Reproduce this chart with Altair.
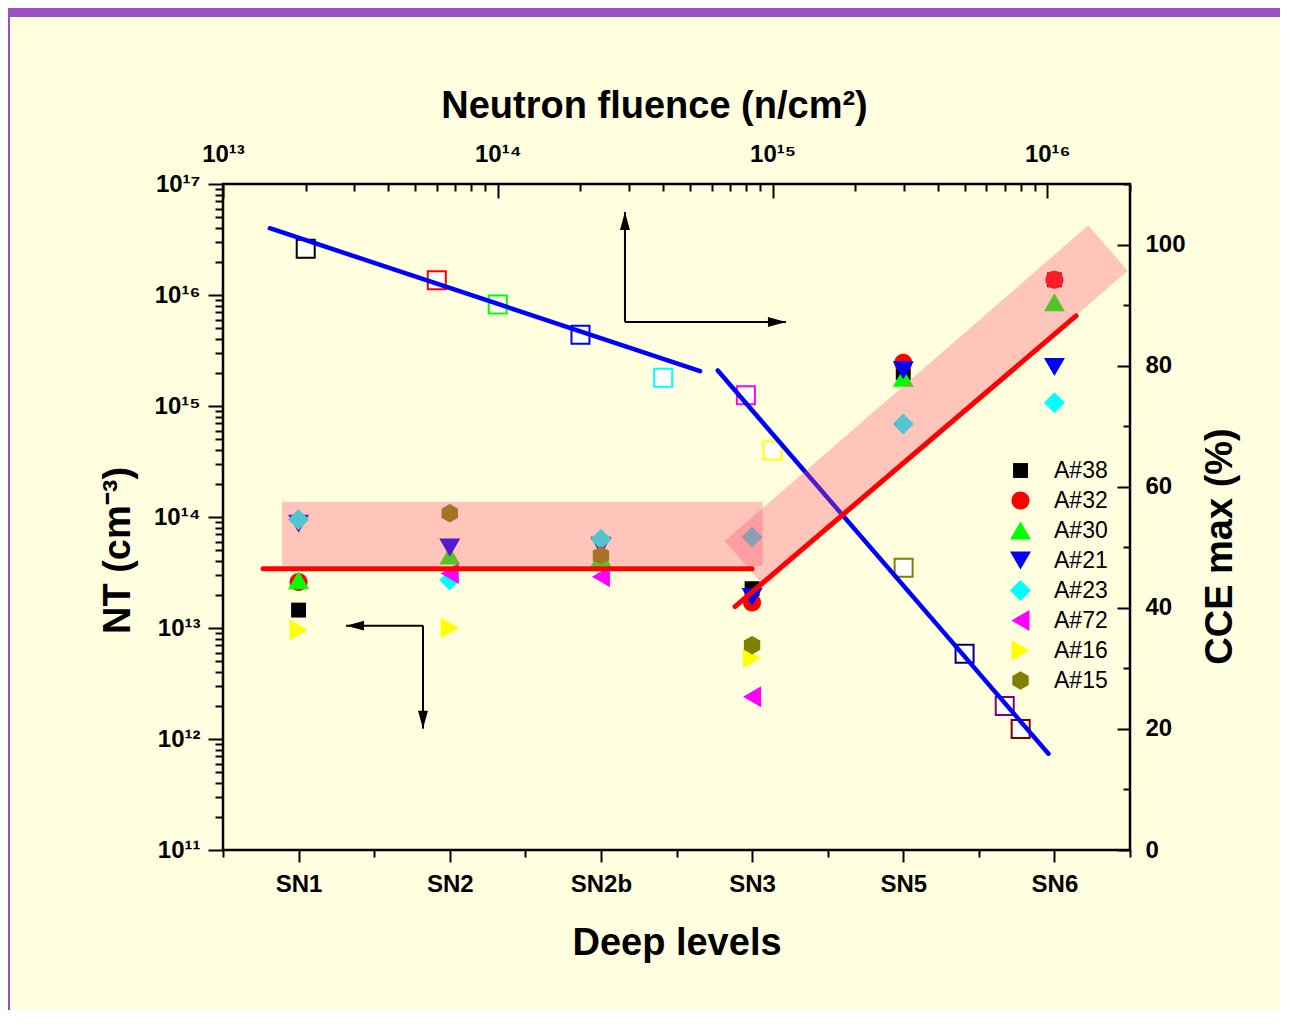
import pandas as pd
import altair as alt

# ---------------- data ----------------
LEVELS = ["SN1", "SN2", "SN2b", "SN3", "SN5", "SN6"]
LEVEL_POS = [1, 2, 3, 4, 5, 6]

SERIES = ["A#38", "A#32", "A#30", "A#21", "A#23", "A#72", "A#16", "A#15"]
COLORS = ["#000000", "#ff0000", "#00ff00", "#0000ff", "#00ffff", "#ff00ff", "#ffff00", "#808000"]
SHAPES = [
    "M-0.71,-0.71L0.71,-0.71L0.71,0.71L-0.71,0.71Z",                      # square
    "M0.86,0A0.86,0.86,0,1,1,-0.86,0A0.86,0.86,0,1,1,0.86,0Z",            # circle
    "M0,-0.86L1,0.86L-1,0.86Z",                                          # triangle up
    "M0,0.86L1,-0.86L-1,-0.86Z",                                         # triangle down
    "M0,-1L1,0L0,1L-1,0Z",                                               # diamond
    "M-0.86,0L0.86,-1L0.86,1Z",                                          # triangle left
    "M0.86,0L-0.86,-1L-0.86,1Z",                                         # triangle right
    "M0,-0.88L0.78,-0.44L0.78,0.44L0,0.88L-0.78,0.44L-0.78,-0.44Z",      # hexagon
]

# trap concentration NT (cm^-3) per deep level, one list per sample
NT_A38 = [1.45e13, None, 4.2e13, 2.26e13, 2.0e15, 1.37e16]
NT_A32 = [2.6e13, None, None, 1.7e13, 2.45e15, 1.37e16]
NT_A30 = [2.7e13, 4.5e13, 4.3e13, None, 1.8e15, 8.6e15]
NT_A21 = [8.7e13, 5.3e13, 5.5e13, 1.9e13, 2.1e15, 2.25e15]
NT_A23 = [9.5e13, 2.7e13, 6.3e13, 6.6e13, 6.9e14, 1.07e15]
NT_A72 = [None, 3.1e13, 2.9e13, 2.4e12, None, None]
NT_A16 = [9.6e12, 1.0e13, None, 5.4e12, None, None]
NT_A15 = [None, 1.08e14, 4.5e13, 7.0e12, None, None]
NT_ALL = [NT_A38, NT_A32, NT_A30, NT_A21, NT_A23, NT_A72, NT_A16, NT_A15]

# CCE max (%) vs neutron fluence (n/cm^2)
FLUENCE = [2e13, 6e13, 1e14, 2e14, 4e14, 8e14, 1e15, 3e15, 5e15, 7e15, 8e15]
CCE = [99.3, 94.1, 90.1, 85.1, 78.0, 75.1, 66.0, 46.6, 32.4, 23.8, 20.0]
CCE_COLORS = ["#000000", "#ff0000", "#00ff00", "#0000ff", "#00ffff", "#ff00ff",
              "#ffff00", "#808000", "#000080", "#800080", "#800000"]

# blue fit lines on CCE vs fluence
FIT1_FL = [1.48e13, 5.45e14]
FIT1_CCE = [102.7, 79.1]
FIT2_FL = [6.32e14, 1.01e16]
FIT2_CCE = [79.2, 15.9]

# red fit lines on NT vs deep level
RED1_X = [0.765, 4.0]
RED1_NT = [3.42e13, 3.42e13]
RED2_X = [3.887, 6.143]
RED2_NT = [1.56e13, 6.48e15]

# shaded bands
BANDH_X = [0.89]
BANDH_X2 = [4.07]
BANDH_NT = [3.64e13]
BANDH_NT2 = [1.37e14]
BANDD_X = [3.95, 6.354]
BANDD_NT = [3.8e13, 2.65e16]

# annotation arrows (deep level position, NT)
ARROW_X = [3.159, 3.159, 1.823, 1.823]
ARROW_X2 = [3.159, 4.224, 1.314, 1.823]
ARROW_NT = [5.72e15, 5.72e15, 1.05e13, 1.05e13]
ARROW_NT2 = [5.6e16, 5.72e15, 1.05e13, 1.24e12]
ARROW_HEADS = [
    "M0,0L-0.55,2L0.55,2Z",   # up
    "M0,0L-2,-0.55L-2,0.55Z", # right
    "M0,0L2,-0.55L2,0.55Z",   # left
    "M0,0L-0.55,-2L0.55,-2Z", # down
]

# ---------------- tables ----------------
rows = []
for s, vals in zip(SERIES, NT_ALL):
    for p, v in zip(LEVEL_POS, vals):
        if v is not None:
            rows.append({"x": p, "nt": v, "series": s})
pts = pd.DataFrame(rows)

sq_df = pd.DataFrame({"fl": FLUENCE, "cce": CCE, "col": CCE_COLORS})
fit_df = pd.DataFrame({
    "fl": FIT1_FL + FIT2_FL,
    "cce": FIT1_CCE + FIT2_CCE,
    "seg": ["a", "a", "b", "b"],
})
red_df = pd.DataFrame({
    "x": RED1_X + RED2_X,
    "nt": RED1_NT + RED2_NT,
    "seg": ["a", "a", "b", "b"],
})
bandh_df = pd.DataFrame({"x": BANDH_X, "x2": BANDH_X2, "nt": BANDH_NT, "nt2": BANDH_NT2})
bandd_df = pd.DataFrame({"x": BANDD_X, "nt": BANDD_NT})
arrow_df = pd.DataFrame({"x": ARROW_X, "x2": ARROW_X2, "nt": ARROW_NT, "nt2": ARROW_NT2})
head_df = pd.DataFrame({"x": ARROW_X2, "nt": ARROW_NT2, "shape": ARROW_HEADS})

# ---------------- axes ----------------
SUP = "⁰¹²³⁴⁵⁶⁷⁸⁹"
E = "round(log(datum.value)/LN10)"
MAJOR_LOG = f"abs(log(datum.value)/LN10 - {E}) < 0.001"
LOG_LABEL = (f"{MAJOR_LOG} ? '10' + substring('{SUP}', floor({E}/10), floor({E}/10)+1)"
             f" + substring('{SUP}', {E}%10, {E}%10+1) : ''")

NT_TICKS = [m * 10.0 ** d for d in range(11, 17) for m in range(1, 10)] + [1e17]
FL_TICKS = [m * 10.0 ** d for d in range(13, 16) for m in range(1, 10)] + [1e16, 2e16]
CCE_TICKS = list(range(0, 111, 10))
LVL_TICKS = [0.5 + 0.5 * i for i in range(13)]
LVL_ARRAY = "[" + ",".join(f"'{l}'" for l in LEVELS) + "]"

AX_LEFT = alt.Axis(
    orient="left", values=NT_TICKS, labelExpr=LOG_LABEL,
    tickSize={"condition": {"test": MAJOR_LOG, "value": 15}, "value": 8},
    labelPadding=8, title="NT (cm⁻³)", titlePadding=16, titleY=366,
)
AX_BOTTOM = alt.Axis(
    orient="bottom", values=LVL_TICKS,
    labelExpr=f"datum.value % 1 == 0 ? {LVL_ARRAY}[datum.value - 1] : ''",
    tickSize={"condition": {"test": "datum.value % 1 == 0", "value": 12}, "value": 7},
    labelPadding=10, title="Deep levels", titlePadding=28,
)
AX_TOP = alt.Axis(
    orient="top", values=FL_TICKS, labelExpr=LOG_LABEL, offset=-14, tickSize=14,
    tickDash={"condition": {"test": MAJOR_LOG, "value": []}, "value": [0, 7, 7, 0]},
    labelPadding=18, title="Neutron fluence (n/cm²)", titlePadding=17, titleX=431,
)
AX_RIGHT = alt.Axis(
    orient="right", values=CCE_TICKS,
    labelExpr="datum.value % 20 == 0 ? datum.label : ''", offset=-13, tickSize=13,
    tickDash={"condition": {"test": "datum.value % 20 == 0", "value": []}, "value": [0, 6, 7, 0]},
    labelPadding=15, title="CCE max (%)", titleAngle=270, titleBaseline="top",
    titlePadding=16, titleY=362,
)

LVL_SCALE = alt.Scale(domain=[0.5, 6.5], nice=False, zero=False)
NT_SCALE = alt.Scale(type="log", domain=[1e11, 1e17], nice=False)
FL_SCALE = alt.Scale(type="log", domain=[1e13, 2e16], nice=False)
CCE_SCALE = alt.Scale(domain=[0, 110], nice=False, zero=False)

X_A = alt.X("x:Q", scale=LVL_SCALE, axis=AX_BOTTOM)
Y_A = alt.Y("nt:Q", scale=NT_SCALE, axis=AX_LEFT)
X_B = alt.X("fl:Q", scale=FL_SCALE, axis=AX_TOP)
Y_B = alt.Y("cce:Q", scale=CCE_SCALE, axis=AX_RIGHT)
X_C = alt.X("x:Q", scale=LVL_SCALE, axis=None)
Y_C = alt.Y("nt:Q", scale=NT_SCALE, axis=None)

LEG = alt.Legend(
    orient="none", legendX=786, legendY=275, title=None,
    labelFont="Liberation Sans", labelFontSize=23, labelFontWeight="normal",
    labelColor="black", symbolSize=441, symbolStrokeWidth=0, symbolOpacity=1,
    rowPadding=6, labelOffset=22, padding=0,
)

PURPLE = "#9c50c0"
BAND_COLOR = "#ff5070"
one = pd.DataFrame({"k": [0]})

# ---------------- group A: NT vs deep levels ----------------
frame_top = alt.Chart(one).mark_rect(color=PURPLE).encode(
    x=alt.value(-215), x2=alt.value(1064), y=alt.value(-176), y2=alt.value(-167))
frame_left = alt.Chart(one).mark_rect(color=PURPLE).encode(
    x=alt.value(-215), x2=alt.value(-213), y=alt.value(-176), y2=alt.value(838))

points = alt.Chart(pts).mark_point(filled=True, size=441, opacity=1, strokeWidth=0).encode(
    x=X_A, y=Y_A,
    color=alt.Color("series:N", scale=alt.Scale(domain=SERIES, range=COLORS), legend=LEG),
    shape=alt.Shape("series:N", scale=alt.Scale(domain=SERIES, range=SHAPES), legend=LEG),
)
arrows = alt.Chart(arrow_df).mark_rule(color="black", strokeWidth=2).encode(
    x=X_A, x2="x2:Q", y=Y_A, y2="nt2:Q")
heads = alt.Chart(head_df).mark_point(filled=True, size=324, color="black", opacity=1, strokeWidth=0).encode(
    x=X_A, y=Y_A, shape=alt.Shape("shape:N", scale=None))

group_a = alt.layer(frame_top, frame_left, points, arrows, heads)

# ---------------- group B: CCE vs fluence ----------------
squares = alt.Chart(sq_df).mark_point(
    shape="square", size=324, filled=False, fill="white", fillOpacity=1, strokeWidth=2, opacity=1
).encode(x=X_B, y=Y_B, stroke=alt.Stroke("col:N", scale=None))
blue = alt.Chart(fit_df).mark_line(color="#0000ff", strokeWidth=4.5, strokeCap="round").encode(
    x=X_B, y=Y_B, detail="seg:N")
group_b = alt.layer(squares, blue)

# ---------------- group C: shaded bands and red fits ----------------
band_h = alt.Chart(bandh_df).mark_rect(color=BAND_COLOR, opacity=0.33).encode(
    x=X_C, x2="x2:Q", y=Y_C, y2="nt2:Q")
band_d = alt.Chart(bandd_df).mark_line(color=BAND_COLOR, opacity=0.33, strokeWidth=60, strokeCap="butt").encode(
    x=X_C, y=Y_C)
red = alt.Chart(red_df).mark_line(color="#ff0000", strokeWidth=5, strokeCap="round").encode(
    x=X_C, y=Y_C, detail="seg:N")
group_c = alt.layer(band_h, band_d, red)

chart = alt.layer(group_a, group_b, group_c).resolve_scale(
    x="independent", y="independent"
).properties(
    width=907, height=666,
    padding={"left": 215, "top": 176, "right": 150, "bottom": 160},
    autosize=alt.AutoSizeParams(type="none"),
    background="#ffffe0",
).configure_view(
    stroke="black", strokeWidth=2.5
).configure_axis(
    labelFont="Liberation Sans", labelFontSize=24, labelFontWeight="bold", labelColor="black",
    titleFont="Liberation Sans", titleFontSize=38, titleFontWeight="bold", titleColor="black",
    tickColor="black", tickWidth=2, domain=False, grid=False,
    labelOverlap=False, labelFlush=False,
)

chart.save("out.html", embed_options={"renderer": "svg", "actions": False})
